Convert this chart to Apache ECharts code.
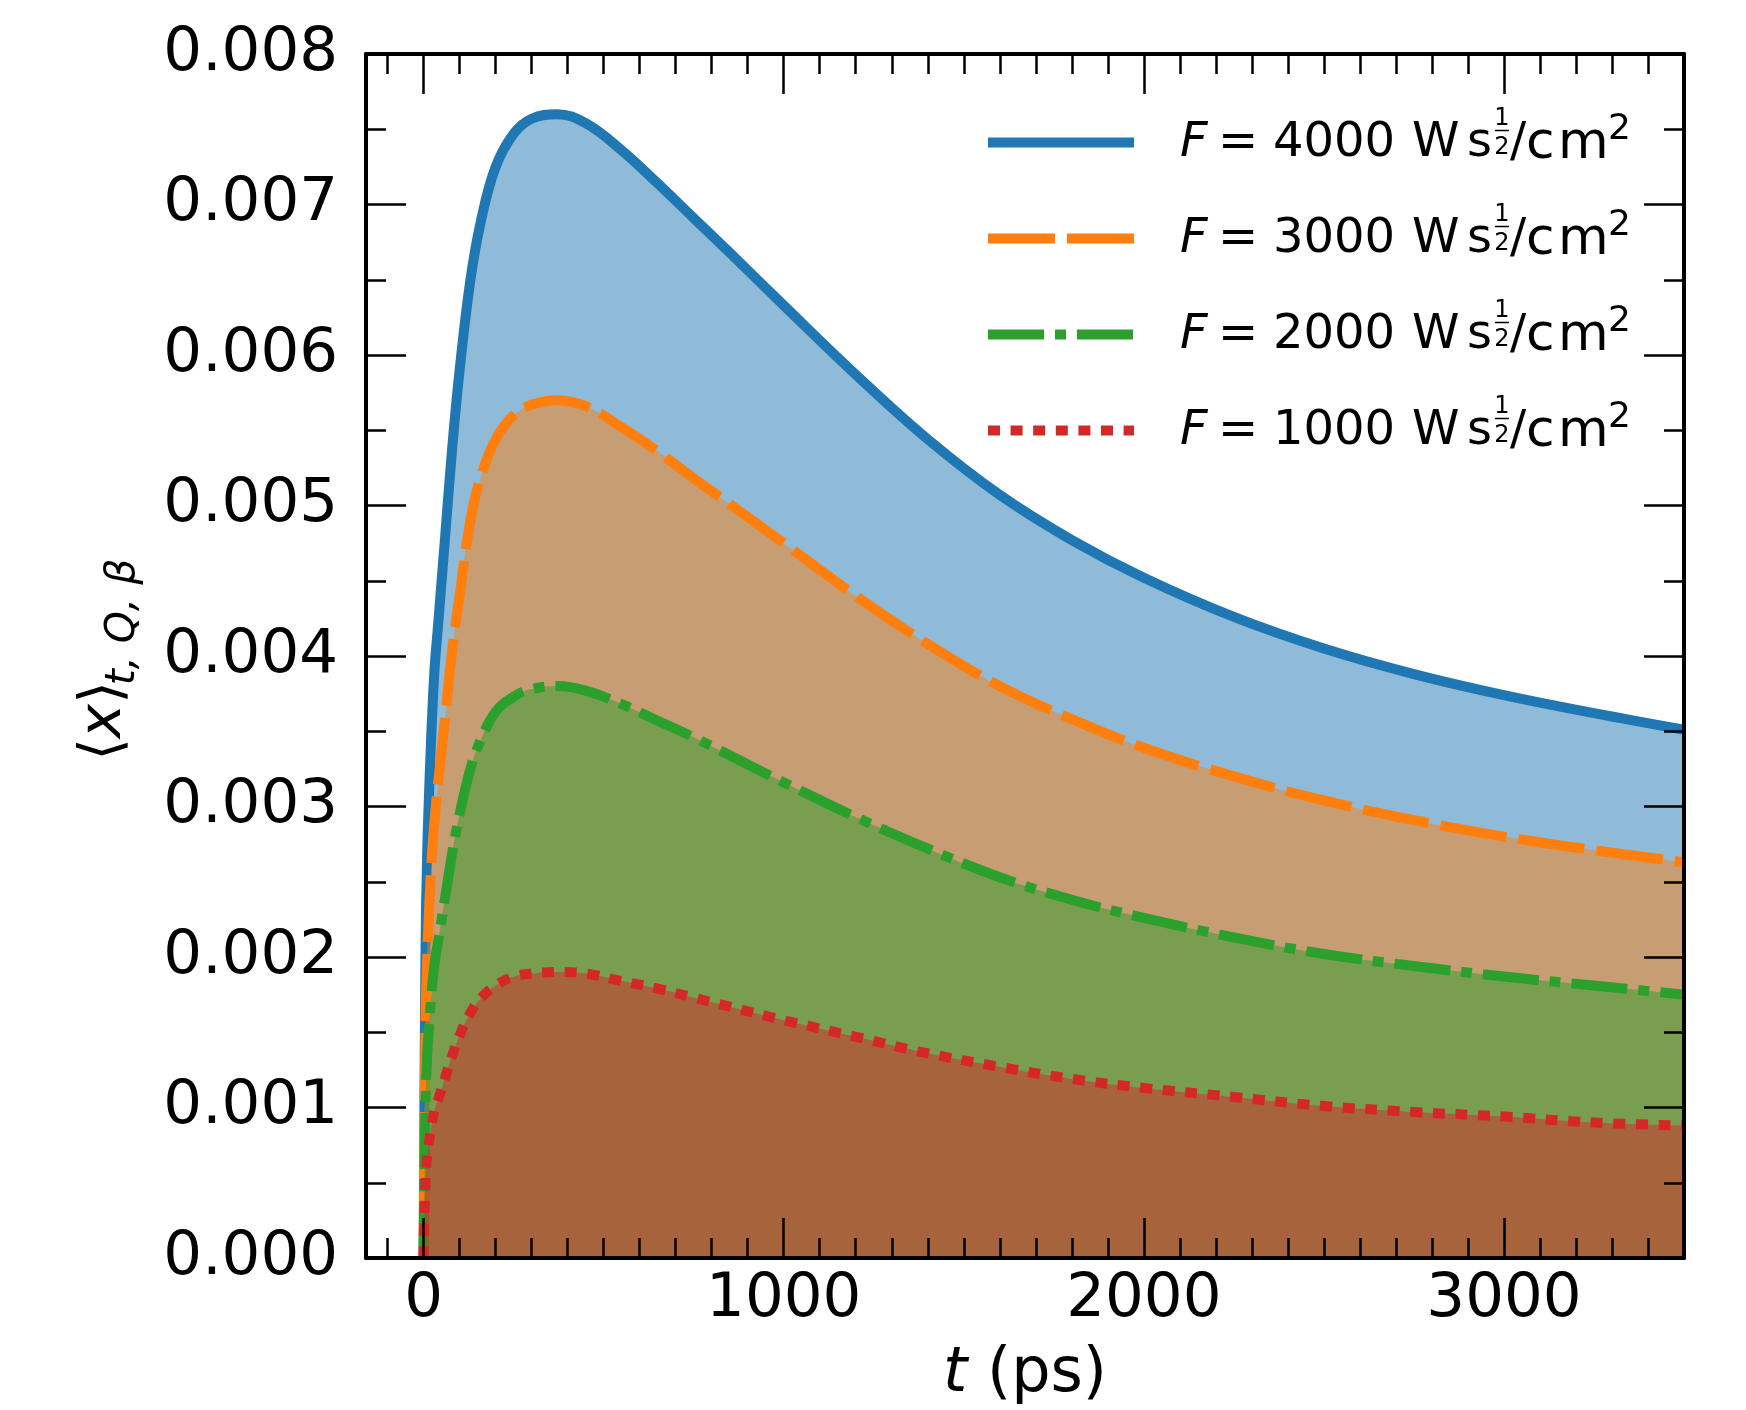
<!DOCTYPE html>
<html><head><meta charset="utf-8">
<script src="https://cdn.jsdelivr.net/npm/echarts@6/dist/echarts.min.js"></script>
<style>html,body{margin:0;padding:0;background:#fff}#c{width:1746px;height:1410px}</style>
</head><body><div id="c"></div>
<script>
// ---- data ----
const tValues = [0, 5, 10, 20, 30, 40, 60, 80, 100, 130, 160, 200, 250, 300, 370, 450, 550, 650, 750, 850, 1000, 1200, 1400, 1600, 1800, 2000, 2250, 2500, 2750, 3000, 3250, 3500];
const xF4000 = [0, 0.0020, 0.0027, 0.0034, 0.0039, 0.0042, 0.0048, 0.0054, 0.0059, 0.0065, 0.0069, 0.00725, 0.00747, 0.00757, 0.0076, 0.00754, 0.00736, 0.00714, 0.00691, 0.00668, 0.00633, 0.00587, 0.00544, 0.00507, 0.00477, 0.00452, 0.00426, 0.00405, 0.00388, 0.00374, 0.00362, 0.00351];
const xF3000 = [0, 0.0015, 0.0020, 0.00255, 0.0029, 0.00315, 0.0036, 0.00405, 0.0044, 0.0049, 0.0052, 0.00544, 0.0056, 0.00567, 0.0057, 0.00566, 0.00552, 0.00536, 0.00518, 0.00501, 0.00475, 0.0044, 0.00408, 0.0038, 0.00358, 0.00339, 0.0032, 0.00304, 0.00291, 0.0028, 0.00271, 0.00263];
const xF2000 = [0, 0.0010, 0.00135, 0.0017, 0.00195, 0.0021, 0.0024, 0.0027, 0.00295, 0.00325, 0.00345, 0.00363, 0.00373, 0.00378, 0.0038, 0.00377, 0.00368, 0.00357, 0.00346, 0.00334, 0.00316, 0.00293, 0.00272, 0.00253, 0.00238, 0.00226, 0.00213, 0.00202, 0.00194, 0.00187, 0.00181, 0.00175];
const xF1000 = [0, 0.0005, 0.00068, 0.00085, 0.00098, 0.00105, 0.0012, 0.00135, 0.00148, 0.00163, 0.00173, 0.00181, 0.00187, 0.00189, 0.0019, 0.00189, 0.00184, 0.00179, 0.00173, 0.00167, 0.00158, 0.00147, 0.00136, 0.00127, 0.00119, 0.00113, 0.00107, 0.00101, 0.00097, 0.00094, 0.0009, 0.00088];
const fluences = ['4000', '3000', '2000', '1000'];
const xMajorTicks = [0, 1000, 2000, 3000];

// ---- styles ----
const FONT = 'DejaVu Sans';
const TICKFS = 61;
const colors = ['#1f77b4', '#ff7f0e', '#2ca02c', '#d62728'];
const dashes = ['solid', [67, 12], [56, 11, 11, 11], [12, 10.6]];
const allSeries = [xF4000, xF3000, xF2000, xF1000];
const minorX = [];
for (let v = -100; v < 3500; v += 100) if (v % 1000 !== 0) minorX.push(v);

const chart = echarts.init(document.getElementById('c'), null, {renderer: 'canvas'});

function xAx(pos, major, labels) {
  const o = {
    type: 'value', min: -160, max: 3500, position: pos, gridIndex: 0, z: 10,
    axisLine: {show: major, onZero: false, lineStyle: {color: '#000', width: 4}},
    axisTick: {show: true, inside: true, length: major ? 40 : 20, customValues: major ? xMajorTicks : minorX,
      lineStyle: {color: '#000', width: 2.5}},
    axisLabel: {show: labels, customValues: xMajorTicks, formatter: v => String(v), margin: 12,
      fontSize: TICKFS, fontFamily: FONT, color: '#000'},
    splitLine: {show: false}, minorTick: {show: false}, minorSplitLine: {show: false}
  };
  if (labels) {
    o.name = '{i|t}{n| (ps)}';
    o.nameLocation = 'middle';
    o.nameGap = 86;
    o.nameTextStyle = {rich: {
      i: {fontStyle: 'italic', fontSize: 62, fontFamily: FONT, color: '#000'},
      n: {fontSize: 62, fontFamily: FONT, color: '#000'}
    }};
  }
  return o;
}
function yAx(pos, labels) {
  return {
    type: 'value', min: 0, max: 0.008, interval: 0.001, position: pos, gridIndex: 0, z: 10,
    axisLine: {show: true, onZero: false, lineStyle: {color: '#000', width: 4}},
    axisTick: {show: true, inside: true, length: 40, lineStyle: {color: '#000', width: 2.5}},
    minorTick: {show: true, splitNumber: 2, length: 20, lineStyle: {color: '#000', width: 2.5}},
    axisLabel: {show: labels, formatter: v => v.toFixed(3), margin: 28, fontSize: TICKFS, fontFamily: FONT, color: '#000'},
    splitLine: {show: false}, minorSplitLine: {show: false}
  };
}

const series = allSeries.map((arr, i) => ({
  type: 'line', name: fluences[i], xAxisIndex: 0, yAxisIndex: 0,
  data: tValues.map((t, k) => [t, arr[k]]),
  showSymbol: false, symbol: 'none', smooth: 0.4, silent: true,
  z: 2 + i,
  lineStyle: {color: colors[i], width: 10, type: dashes[i], cap: 'butt', join: 'round'},
  areaStyle: {color: colors[i], opacity: 0.5},
  emphasis: {disabled: true}
}));

// legend drawn as graphic
const graphics = [];
const LX0 = 1182;
fluences.forEach((f, i) => {
  const yc = 141 + i * 96;
  graphics.push({type: 'line', silent: true, z: 20,
    shape: {x1: 988, y1: yc + 1.5, x2: 1134, y2: yc + 1.5},
    style: {stroke: colors[i], lineWidth: 10, lineDash: dashes[i] === 'solid' ? null : dashes[i], lineCap: 'butt'}});
  const txt = (x, y, text, size, italic) => ({type: 'text', x: x, y: y, silent: true, z: 20,
    style: {text: text, fontSize: size, fontFamily: FONT, fontStyle: italic ? 'italic' : 'normal',
      fill: '#000', align: 'left', verticalAlign: 'middle'}});
  const ty = yc + 3;
  graphics.push(txt(LX0 - 2, ty, 'F', 48, true));
  graphics.push(txt(LX0 + 36, ty, '=', 48, false));
  graphics.push(txt(LX0 + 91, ty, f, 48, false));
  graphics.push(txt(LX0 + 230, ty, 'W', 48, false));
  graphics.push(txt(LX0 + 285, ty, 's', 48, false));
  graphics.push({type: 'text', x: LX0 + 320, y: yc - 23.5 + 1.6, silent: true, z: 20,
    style: {text: '1', fontSize: 24, fontFamily: FONT, fill: '#000', align: 'center', verticalAlign: 'middle'}});
  graphics.push({type: 'text', x: LX0 + 320, y: yc + 5 + 1.6, silent: true, z: 20,
    style: {text: '2', fontSize: 24, fontFamily: FONT, fill: '#000', align: 'center', verticalAlign: 'middle'}});
  graphics.push({type: 'line', silent: true, z: 20, shape: {x1: LX0 + 313, y1: yc - 10.5, x2: LX0 + 327, y2: yc - 10.5},
    style: {stroke: '#000', lineWidth: 1.5}});
  graphics.push(txt(LX0 + 328, ty, '/', 48, false));
  graphics.push(txt(LX0 + 344, ty, 'c', 52, false));
  graphics.push(txt(LX0 + 376, ty, 'm', 52, false));
  graphics.push(txt(LX0 + 426, yc - 13.5 + 2.4, '2', 36, false));
});
// y-axis label
graphics.push({type: 'text', x: 105, y: 721, rotation: Math.PI / 2, silent: true, z: 20,
  style: {text: '{u|⟨}{i|x}{u|⟩}', align: 'center', verticalAlign: 'middle',
    rich: {u: {fontSize: 58, fontFamily: FONT, fill: '#000'}, i: {fontSize: 58, fontFamily: FONT, fontStyle: 'italic', fill: '#000'}}}});
graphics.push({type: 'text', x: 123, y: 622, rotation: Math.PI / 2, silent: true, z: 20,
  style: {text: 't, Q, β', fontSize: 41, fontFamily: FONT, fontStyle: 'italic', fill: '#000', align: 'center', verticalAlign: 'middle'}});

chart.setOption({
  animation: false,
  backgroundColor: '#fff',
  grid: {left: 366, top: 54, right: 62, bottom: 152, containLabel: false, outerBoundsMode: 'none'},
  xAxis: [xAx('bottom', true, true), xAx('bottom', false, false), xAx('top', true, false), xAx('top', false, false)],
  yAxis: [yAx('left', true), yAx('right', false)],
  series: series,
  graphic: graphics
});
</script></body></html>
